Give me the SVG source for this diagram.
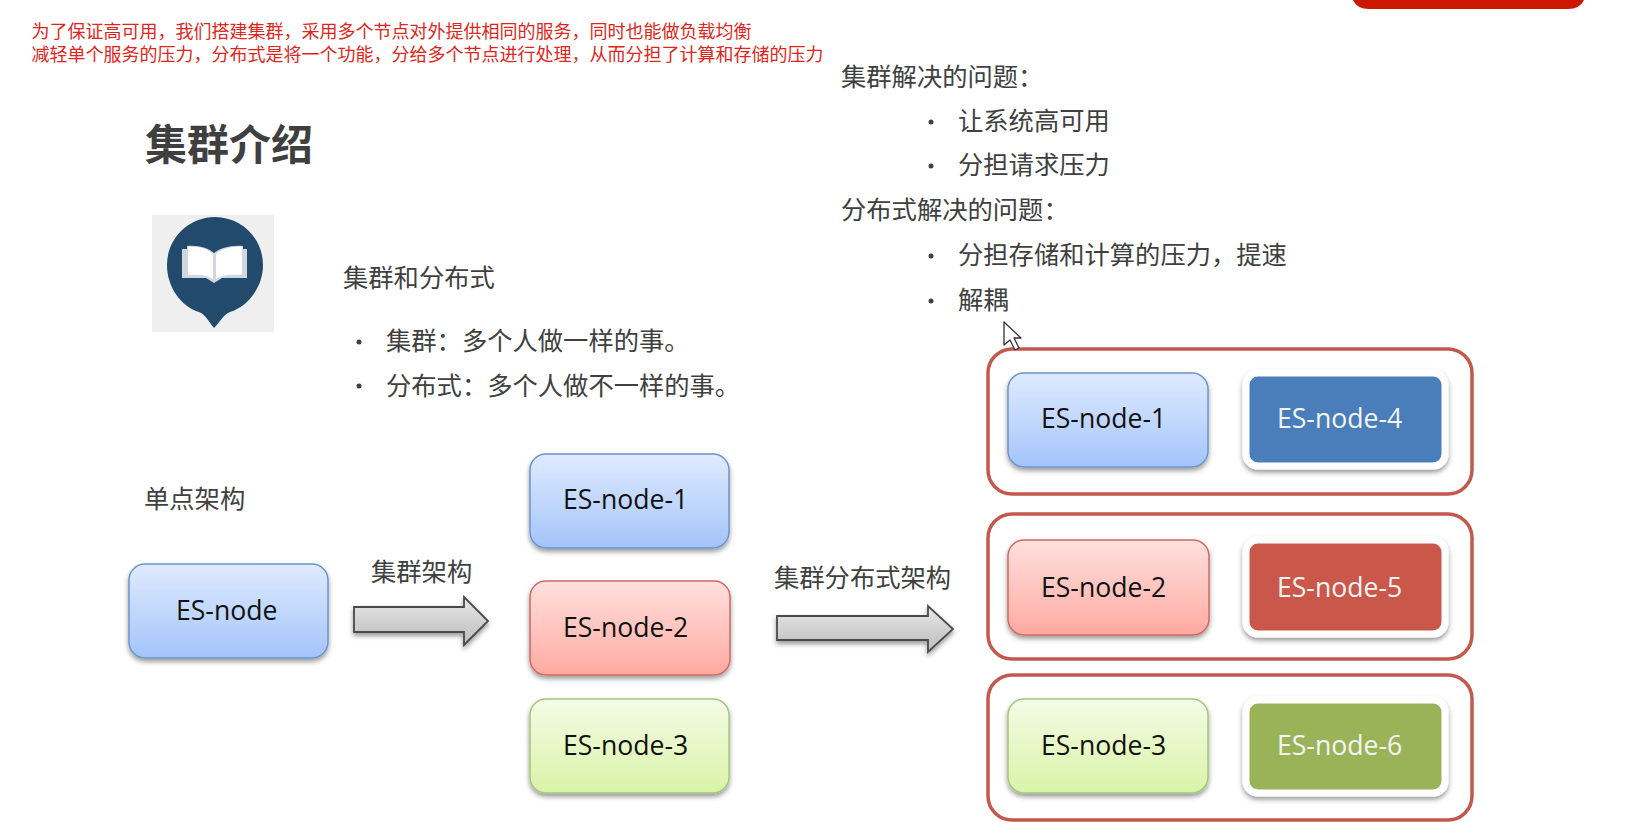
<svg xmlns="http://www.w3.org/2000/svg" width="1638" height="837" viewBox="0 0 1638 837">
<style>
text{font-family:"Noto Sans CJK SC","Noto Sans",sans-serif;fill:#404040}
.note{font-size:18px;fill:#e0261c}
.title{font-size:42px;font-weight:700;fill:#3f3f3f}
.body{font-size:25.3px}
.dot{fill:#404040}
.es{font-family:"Open Sans","Noto Sans",sans-serif;font-size:26.6px;fill:#111}
.esw{font-family:"Open Sans","Noto Sans",sans-serif;font-size:26.6px;fill:#f4f4f4}
.blue{fill:url(#gBlue);stroke:#6d94c8;stroke-width:1.5;filter:url(#sh)}
.red{fill:url(#gRed);stroke:#cf6a62;stroke-width:1.5;filter:url(#sh)}
.green{fill:url(#gGreen);stroke:#a5c57c;stroke-width:1.5;filter:url(#sh)}
.frame{fill:#fff;stroke:#c4584c;stroke-width:3.5}
.solid{stroke:#fff;stroke-width:7;filter:url(#sh)}
.arrow{fill:url(#gGrey);stroke:#4a4a4a;stroke-width:1.8;filter:url(#sh)}
</style>
<defs>
<linearGradient id="gBlue" x1="0" y1="0" x2="0" y2="1"><stop offset="0" stop-color="#dfeaff"/><stop offset="0.8" stop-color="#b0ccfb"/><stop offset="1" stop-color="#a2c3fa"/></linearGradient>
<linearGradient id="gRed" x1="0" y1="0" x2="0" y2="1"><stop offset="0" stop-color="#ffe0de"/><stop offset="0.8" stop-color="#ffb5ae"/><stop offset="1" stop-color="#ffa89f"/></linearGradient>
<linearGradient id="gGreen" x1="0" y1="0" x2="0" y2="1"><stop offset="0" stop-color="#f4fbe6"/><stop offset="0.8" stop-color="#dff5b4"/><stop offset="1" stop-color="#d9f3a8"/></linearGradient>
<linearGradient id="gGrey" x1="0" y1="0" x2="0" y2="1"><stop offset="0" stop-color="#e8e8e8"/><stop offset="0.55" stop-color="#cfcfcf"/><stop offset="1" stop-color="#bdbdbd"/></linearGradient>
<filter id="sh" x="-10%" y="-10%" width="120%" height="125%"><feDropShadow dx="0" dy="3" stdDeviation="2.5" flood-color="#000" flood-opacity="0.4"/></filter>
</defs>
<rect width="1638" height="837" fill="#fff"/>
<path id="top-bar" d="M1353 0H1584Q1580 9 1568 9H1369Q1357 9 1353 0Z" fill="#cc1800"/>

<g id="notes">
<text class="note" x="31.500" y="38">为了保证高可用，我们搭建集群，采用多个节点对外提供相同的服务，同时也能做负载均衡</text>
<text class="note" x="31.500" y="61">减轻单个服务的压力，分布式是将一个功能，分给多个节点进行处理，从而分担了计算和存储的压力</text>
</g>
<text class="title" x="145" y="160">集群介绍</text>

<g id="icon">
<rect x="152" y="215" width="122" height="117" fill="#efefef"/>
<path d="M215 217C241 217 263 238 263 265C263 288 247 307 230 312C224 314 220 322 214 328C209 322 205 314 199 312C182 307 167 288 167 265C167 238 189 217 215 217Z" fill="#214a6c"/>
<path d="M182 249H187V246C199 245 208 248 214 253C220 248 231 245 243 246V249H247V278H222L214 283L206 278H182Z" fill="#cfd8dc"/>
<path d="M188 247C199 246 208 249 213 254V279C207 275 198 274 188 275Z" fill="#fff"/>
<path d="M242 247C231 246 221 249 216 254V279C222 275 232 274 242 275Z" fill="#fff"/>
</g>

<g id="intro">
<text class="body" x="343" y="287">集群和分布式</text>
<circle class="dot" cx="359" cy="342" r="2.5"/>
<text class="body" x="386" y="350">集群：多个人做一样的事。</text>
<circle class="dot" cx="359" cy="386" r="2.5"/>
<text class="body" x="386" y="395">分布式：多个人做不一样的事。</text>
</g>

<g id="problems">
<text class="body" x="841" y="86">集群解决的问题：</text>
<circle class="dot" cx="931" cy="122" r="2.5"/>
<text class="body" x="958" y="130">让系统高可用</text>
<circle class="dot" cx="931" cy="166" r="2.5"/>
<text class="body" x="958" y="174">分担请求压力</text>
<text class="body" x="841" y="219">分布式解决的问题：</text>
<circle class="dot" cx="931" cy="256" r="2.5"/>
<text class="body" x="958" y="264">分担存储和计算的压力，提速</text>
<circle class="dot" cx="931" cy="301" r="2.5"/>
<text class="body" x="958" y="309">解耦</text>
</g>

<text class="body" x="144" y="508">单点架构</text>
<text class="body" x="371" y="581">集群架构</text>
<text class="body" x="774" y="587">集群分布式架构</text>

<g id="connectors">
<path class="arrow" d="M354 607H464V597L488 621L464 645V632H354Z"/>
<path class="arrow" d="M777 616H928V606L953 629L928 652V640H777Z"/>
</g>

<g id="frame-1"><rect class="frame" x="988" y="349" width="484" height="145" rx="24"/></g>
<g id="frame-2"><rect class="frame" x="988" y="514" width="484" height="145" rx="24"/></g>
<g id="frame-3"><rect class="frame" x="988" y="675" width="484" height="145" rx="24"/></g>

<g id="es-node"><rect class="blue" x="129" y="564" width="199" height="94" rx="16"/><text class="es" x="176" y="620">ES-node</text></g>
<g id="mid-node-1"><rect class="blue" x="530" y="454" width="199" height="94" rx="16"/><text class="es" x="563" y="509">ES-node-1</text></g>
<g id="mid-node-2"><rect class="red" x="530" y="581" width="200" height="94" rx="16"/><text class="es" x="563" y="637">ES-node-2</text></g>
<g id="mid-node-3"><rect class="green" x="530" y="699" width="199" height="94" rx="16"/><text class="es" x="563" y="755">ES-node-3</text></g>

<g id="node-1"><rect class="blue" x="1008" y="373" width="200" height="94" rx="16"/><text class="es" x="1041" y="428">ES-node-1</text></g>
<g id="node-4"><rect class="solid" x="1246" y="373" width="199" height="93" rx="12" fill="#4a7ebb"/><text class="esw" x="1277" y="428">ES-node-4</text></g>
<g id="node-2"><rect class="red" x="1008" y="540" width="201" height="95" rx="16"/><text class="es" x="1041" y="597">ES-node-2</text></g>
<g id="node-5"><rect class="solid" x="1246" y="540" width="199" height="94" rx="12" fill="#c9594b"/><text class="esw" x="1277" y="597">ES-node-5</text></g>
<g id="node-3"><rect class="green" x="1008" y="699" width="200" height="94" rx="16"/><text class="es" x="1041" y="755">ES-node-3</text></g>
<g id="node-6"><rect class="solid" x="1246" y="700" width="199" height="93" rx="12" fill="#9bb358"/><text class="esw" x="1277" y="755">ES-node-6</text></g>

<path id="cursor" d="M1004 322V345L1010 340L1015 350L1019 348L1014 338H1021Z" fill="#fff" stroke="#333" stroke-width="1.3" stroke-linejoin="round"/>
</svg>
